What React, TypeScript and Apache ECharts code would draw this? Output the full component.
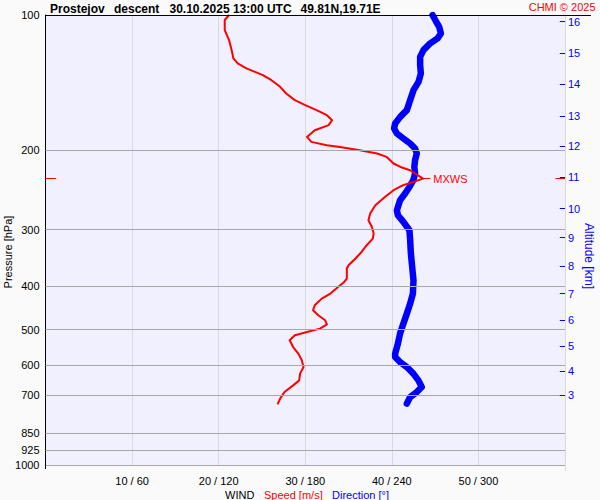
import React, { useEffect, useRef } from "react";
import * as echarts from "echarts";

// Wind speed profile (m/s) vs pressure (hPa)
const speedPressure = [100, 102.6, 108.0, 113.7, 119.7, 124.9, 128.1, 131.4, 133.8, 136.0, 139.6, 144.4, 149.4, 154.6, 158.6, 162.7, 167.0, 171.3, 175.7, 180.3, 186.6, 191.4, 194.7, 196.4, 199.7, 203.1, 206.7, 213.8, 217.6, 221.3, 225.0, 231.0, 234.9, 238.9, 245.1, 253.7, 264.7, 276.2, 285.8, 295.8, 306.0, 313.9, 324.8, 336.2, 347.7, 359.9, 366.0, 385.2, 392.0, 402.2, 416.0, 426.8, 441.7, 453.1, 464.9, 476.9, 486.8, 497.6, 506.4, 515.0, 528.4, 546.8, 565.6, 585.3, 605.8, 626.6, 648.5, 665.3, 688.5, 712.2, 733.3];
const speedValues = [21.2, 20.7, 20.7, 21.2, 21.5, 21.7, 22.2, 23.2, 24.2, 25.1, 26.1, 27.1, 27.8, 28.8, 30.0, 31.3, 32.5, 33.1, 32.7, 31.1, 30.2, 30.7, 32.5, 34.0, 36.3, 38.3, 39.4, 40.2, 41.0, 42.1, 42.7, 43.6, 42.5, 41.3, 40.2, 39.2, 38.1, 37.5, 37.3, 37.7, 37.9, 37.8, 37.1, 36.5, 35.8, 35.0, 34.8, 34.8, 34.5, 33.8, 32.9, 31.9, 31.1, 30.9, 31.5, 32.3, 32.5, 31.7, 30.2, 28.8, 28.2, 28.6, 29.2, 29.6, 29.8, 29.4, 29.3, 28.6, 27.6, 27.1, 26.8];

// Wind direction profile (deg) vs pressure (hPa)
const dirPressure = [100, 102.6, 106.2, 109.9, 112.7, 115.6, 119.7, 123.9, 129.2, 134.9, 140.8, 146.9, 154.6, 162.7, 168.4, 174.2, 178.7, 183.4, 188.1, 193.0, 198.0, 203.1, 210.2, 217.6, 225.0, 232.8, 241.0, 249.3, 258.0, 271.6, 278.6, 288.3, 300.8, 316.6, 339.0, 363.0, 388.6, 416.0, 437.8, 460.9, 485.1, 510.6, 537.4, 565.6, 575.5, 590.4, 605.8, 626.6, 648.5, 671.1, 688.5, 706.3, 730.6];
const dirValues = [268.2, 270.1, 272.8, 274.0, 271.7, 266.6, 261.9, 259.6, 259.6, 260.1, 258.5, 255.0, 252.7, 250.4, 245.8, 242.3, 241.6, 243.5, 248.0, 252.7, 256.1, 257.3, 256.1, 255.6, 256.1, 254.9, 252.2, 249.2, 245.7, 243.5, 244.2, 248.0, 252.2, 252.7, 253.2, 254.1, 255.0, 254.6, 252.7, 250.4, 248.0, 245.7, 244.2, 242.3, 242.3, 245.7, 250.4, 254.9, 258.4, 260.7, 257.3, 252.7, 250.4];

// Pressure levels with grid lines
const pressureLevels = [200, 300, 400, 500, 600, 700, 850, 925, 1000];
// Altitude ticks (km) and their pressure (hPa)
const altitudeKm = [16, 15, 14, 13, 12, 11, 10, 9, 8, 7, 6, 5, 4, 3];
const altitudePressure = [103.5, 121.4, 142.7, 167.6, 195.4, 229.3, 269.2, 312.3, 361.2, 416.0, 476.9, 544.0, 618.3, 700.3];
// Speed axis ticks (m/s) ; direction = speed * 6
const speedTicks = [10, 20, 30, 40, 50];
// Maximum wind
const mxwsPressure = 231;
const mxwsSpeed = 43.6;

const FONT = "'Liberation Sans', Arial, sans-serif";

export default function App() {
  const ref = useRef<HTMLDivElement>(null);
  useEffect(() => {
    if (!ref.current) return;
    const chart = echarts.init(ref.current, undefined, { renderer: "svg" });

    const gridMarks: any[] = [];
    gridMarks.push({
      yAxis: 100,
      lineStyle: { color: "#000", width: 1, type: "solid" },
      label: { show: true, position: "start", formatter: "100", color: "#000", fontSize: 11, fontFamily: FONT, distance: 6 },
    });
    pressureLevels.forEach((p) => {
      gridMarks.push({
        yAxis: p,
        lineStyle: { color: "#a8a8a8", width: 1, type: "solid" },
        label: { show: true, position: "start", formatter: String(p), color: "#000", fontSize: 11, fontFamily: FONT, distance: 6 },
      });
    });
    altitudeKm.forEach((km, i) => {
      gridMarks.push([
        {
          coord: [59.4, altitudePressure[i]],
          name: String(km),
          lineStyle: { color: "#0000ff", width: 1, type: "solid" },
          label: { show: true, position: "end", formatter: "{b}", color: "#0000ff", fontSize: 11, fontFamily: FONT, distance: 3 },
        },
        { coord: [60, altitudePressure[i]] },
      ]);
    });
    // MXWS markers
    gridMarks.push([
      { coord: [0, mxwsPressure], lineStyle: { color: "#ff0000", width: 1, type: "solid" }, label: { show: false } },
      { coord: [1.2, mxwsPressure] },
    ]);
    gridMarks.push([
      { coord: [58.9, mxwsPressure], lineStyle: { color: "#ff0000", width: 1, type: "solid" }, label: { show: false } },
      { coord: [60, mxwsPressure] },
    ]);
    gridMarks.push([
      {
        coord: [mxwsSpeed, mxwsPressure],
        name: "MXWS",
        lineStyle: { color: "#ff0000", width: 1, type: "solid" },
        label: { show: true, position: "end", formatter: "{b}", color: "#ff0000", fontSize: 11, fontFamily: FONT, distance: 3 },
      },
      { coord: [mxwsSpeed + 0.85, mxwsPressure] },
    ]);

    chart.setOption({
      animation: false,
      backgroundColor: "#fafafa",
      textStyle: { fontFamily: FONT },
      grid: {
        left: 45.5,
        right: 35,
        top: 15,
        bottom: 35,
        show: true,
        backgroundColor: "#f0f0ff",
        borderWidth: 0,
      },
      xAxis: [
        {
          type: "value",
          min: 0,
          max: 60,
          interval: 10,
          axisLine: { show: false },
          axisTick: { show: false },
          splitLine: { show: true, lineStyle: { color: "#dadada", width: 1 } },
          axisLabel: {
            color: "#000",
            fontSize: 11,
            fontFamily: FONT,
            margin: 10,
            formatter: (v: number) => (speedTicks.includes(v) ? `${v} / ${v * 6}` : ""),
          },
        },
        {
          type: "value",
          min: 0,
          max: 360,
          show: false,
        },
      ],
      yAxis: {
        type: "log",
        logBase: 10,
        min: 100,
        max: 1000,
        inverse: true,
        axisLine: { show: true, onZero: false, lineStyle: { color: "#000", width: 1 } },
        axisTick: { show: false },
        axisLabel: { show: false },
        splitLine: { show: false },
      },
      graphic: [
        { type: "line", shape: { x1: 45, y1: 15.5, x2: 591, y2: 15.5 }, style: { stroke: "#000", lineWidth: 1 }, z: 10 },
        { type: "line", shape: { x1: 45.5, y1: 465, x2: 45.5, y2: 469 }, style: { stroke: "#000", lineWidth: 1 }, z: 10 },
        { type: "line", shape: { x1: 565.5, y1: 465, x2: 565.5, y2: 471 }, style: { stroke: "#dadada", lineWidth: 1 }, z: 10 },
        { type: "text", x: 50, y: 8.5, style: { text: "Prostejov", font: `bold 12px ${FONT}`, fill: "#000", verticalAlign: "middle" } },
        { type: "text", x: 114, y: 8.5, style: { text: "descent", font: `bold 12px ${FONT}`, fill: "#000", verticalAlign: "middle" } },
        { type: "text", x: 169.5, y: 8.5, style: { text: "30.10.2025 13:00 UTC", font: `bold 12px ${FONT}`, fill: "#000", verticalAlign: "middle" } },
        { type: "text", x: 300.5, y: 8.5, style: { text: "49.81N,19.71E", font: `bold 12px ${FONT}`, fill: "#000", verticalAlign: "middle" } },
        { type: "text", x: 595.5, y: 6.5, style: { text: "CHMI © 2025", font: `11px ${FONT}`, fill: "#ff0000", align: "right", verticalAlign: "middle" } },
        { type: "text", x: 8, y: 252, rotation: Math.PI / 2, style: { text: "Pressure [hPa]", font: `11px ${FONT}`, fill: "#000", align: "center", verticalAlign: "middle" } },
        { type: "text", x: 589, y: 256, rotation: -Math.PI / 2, style: { text: "Altitude [km]", font: `12px ${FONT}`, fill: "#0000ff", align: "center", verticalAlign: "middle" } },
        { type: "text", x: 225, y: 494.5, style: { text: "WIND", font: `11px ${FONT}`, fill: "#000", verticalAlign: "middle" } },
        { type: "text", x: 264, y: 494.5, style: { text: "Speed [m/s]", font: `11px ${FONT}`, fill: "#ff0000", verticalAlign: "middle" } },
        { type: "text", x: 332, y: 494.5, style: { text: "Direction [°]", font: `11px ${FONT}`, fill: "#0000ff", verticalAlign: "middle" } },
      ],
      series: [
        {
          type: "line",
          name: "marks",
          data: [],
          clip: false,
          silent: true,
          z: 1,
          markLine: {
            silent: true,
            symbol: ["none", "none"],
            animation: false,
            data: gridMarks,
          },
        },
        {
          type: "line",
          name: "Direction",
          xAxisIndex: 1,
          data: dirPressure.map((p, i) => [dirValues[i], p]),
          showSymbol: false,
          symbol: "none",
          lineStyle: { color: "#0000ff", width: 6.5, cap: "round", join: "round" },
          z: 3,
        },
        {
          type: "line",
          name: "Speed",
          data: speedPressure.map((p, i) => [speedValues[i], p]),
          showSymbol: false,
          symbol: "none",
          lineStyle: { color: "#ff0000", width: 2, join: "round" },
          z: 4,
        },
      ],
    });
    return () => chart.dispose();
  }, []);
  return (
    <div
      ref={ref}
      style={{ position: "fixed", left: 0, top: 0, width: 600, height: 500 }}
    />
  );
}
